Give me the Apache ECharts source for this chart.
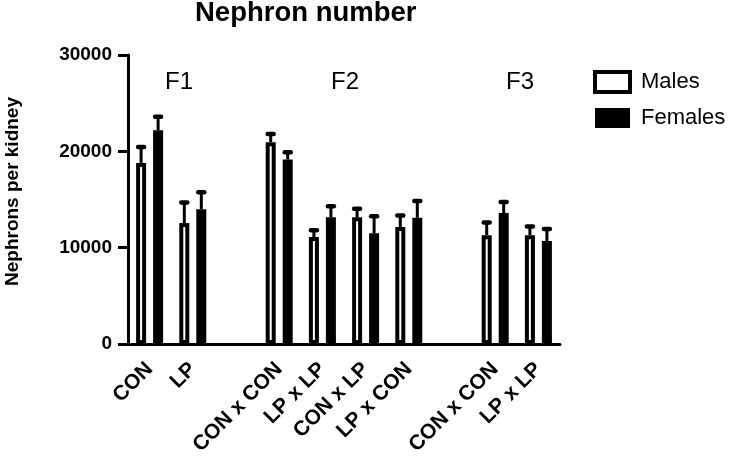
<!DOCTYPE html>
<html>
<head>
<meta charset="utf-8">
<script src="https://cdn.jsdelivr.net/npm/echarts@6/dist/echarts.min.js"></script>
<style>html,body{margin:0;padding:0;background:#fff}#c{width:730px;height:463px}</style>
</head>
<body>
<div id="c"></div>
<script>
var categories = ['CON', 'LP', '', 'CON x CON', 'LP x LP', 'CON x LP', 'LP x CON', '', 'CON x CON', 'LP x LP'];
var males   = [18800, 12550, '-', 20950, 11100, 13150, 12150, '-', 11300, 11300];
var females = [22200, 14000, '-', 19150, 13150, 11500, 13100, '-', 13600, 10700];
var malesErr   = [1650, 2150, '-', 850, 700, 900, 1200, '-', 1300, 900];
var femalesErr = [1400, 1750, '-', 750, 1150, 1750, 1750, '-', 1150, 1250];
var yTicks = [0, 10000, 20000, 30000];
var groupLabels = ['F1', 'F2', 'F3'];

var FONT = '"Liberation Sans", Arial, sans-serif';
var BAR_W = 10, BAR_GAP = 0.7;

function errData(vals, errs) {
  var out = [];
  for (var i = 0; i < vals.length; i++) {
    if (vals[i] !== '-') out.push([i, vals[i], errs[i]]);
  }
  return out;
}

function errRender(side) {
  return function (params, api) {
    var idx = api.value(0), v = api.value(1), e = api.value(2);
    var off = side * (BAR_W + BAR_W * BAR_GAP) / 2;
    var p0 = api.coord([idx, v]);
    var p1 = api.coord([idx, v + e]);
    var x = p0[0] + off;
    return {
      type: 'group',
      children: [
        { type: 'line', shape: { x1: x, y1: p0[1], x2: x, y2: p1[1] }, style: { stroke: '#000', lineWidth: 3 } },
        { type: 'line', shape: { x1: x - 3, y1: p1[1], x2: x + 3, y2: p1[1] }, style: { stroke: '#000', lineWidth: 4.5, lineCap: 'round' } }
      ]
    };
  };
}

var chart = echarts.init(document.getElementById('c'));
chart.setOption({
  animation: false,
  backgroundColor: '#fff',
  title: {
    text: 'Nephron number',
    left: 195, top: -1, padding: 0,
    textStyle: { fontFamily: FONT, fontSize: 27.5, fontWeight: 'bold', color: '#000' }
  },
  legend: {
    orient: 'vertical', left: 588, top: 65, itemWidth: 35, itemHeight: 20, itemGap: 13,
    icon: 'rect',
    textStyle: { fontFamily: FONT, fontSize: 22, color: '#000', padding: [0, 0, 0, 6] },
    data: [
      { name: 'Males', itemStyle: { color: '#fff', borderColor: '#000', borderWidth: 4 } },
      { name: 'Females', itemStyle: { color: '#000', borderColor: '#000', borderWidth: 0 } }
    ]
  },
  grid: { left: 128, right: 170, top: 55, bottom: 119, containLabel: false, outerBoundsMode: 'none' },
  xAxis: {
    type: 'category', data: categories,
    axisLine: { lineStyle: { color: '#000', width: 3 } },
    axisTick: { alignWithLabel: true, length: 8, lineStyle: { color: '#000', width: 3 } },
    axisLabel: { interval: 0, rotate: 45, margin: 22, color: '#000', fontFamily: FONT, fontSize: 21, fontWeight: 'bold' },
    splitLine: { show: false }
  },
  yAxis: {
    type: 'value', min: yTicks[0], max: yTicks[yTicks.length - 1], interval: yTicks[1] - yTicks[0],
    name: 'Nephrons per kidney', nameLocation: 'middle', nameRotate: 90, nameGap: 106,
    nameTextStyle: { fontFamily: FONT, fontSize: 19, fontWeight: 'bold', color: '#000', padding: [0, 0, 0, 16] },
    axisLine: { show: true, lineStyle: { color: '#000', width: 3 } },
    axisTick: { show: true, length: 10, lineStyle: { color: '#000', width: 3 } },
    axisLabel: { margin: 16, color: '#000', fontFamily: FONT, fontSize: 19, fontWeight: 'bold',
      formatter: function (v) { return String(v); } },
    splitLine: { show: false }
  },
  graphic: [
    { type: 'text', left: 165, top: 70, style: { text: groupLabels[0], font: '24px ' + FONT, fill: '#000' } },
    { type: 'text', left: 331, top: 70, style: { text: groupLabels[1], font: '24px ' + FONT, fill: '#000' } },
    { type: 'text', left: 506, top: 70, style: { text: groupLabels[2], font: '24px ' + FONT, fill: '#000' } }
  ],
  series: [
    {
      name: 'Males', type: 'bar', data: males, barWidth: BAR_W, barGap: (BAR_GAP * 100) + '%',
      itemStyle: { color: '#fff', borderColor: '#000', borderWidth: 4 }
    },
    {
      name: 'Females', type: 'bar', data: females, barWidth: BAR_W,
      itemStyle: { color: '#000', borderColor: '#000', borderWidth: 4 }
    },
    { name: 'MalesErr', type: 'custom', data: errData(males, malesErr), renderItem: errRender(-1), z: 3 },
    { name: 'FemalesErr', type: 'custom', data: errData(females, femalesErr), renderItem: errRender(1), z: 3 }
  ]
});
</script>
</body>
</html>
